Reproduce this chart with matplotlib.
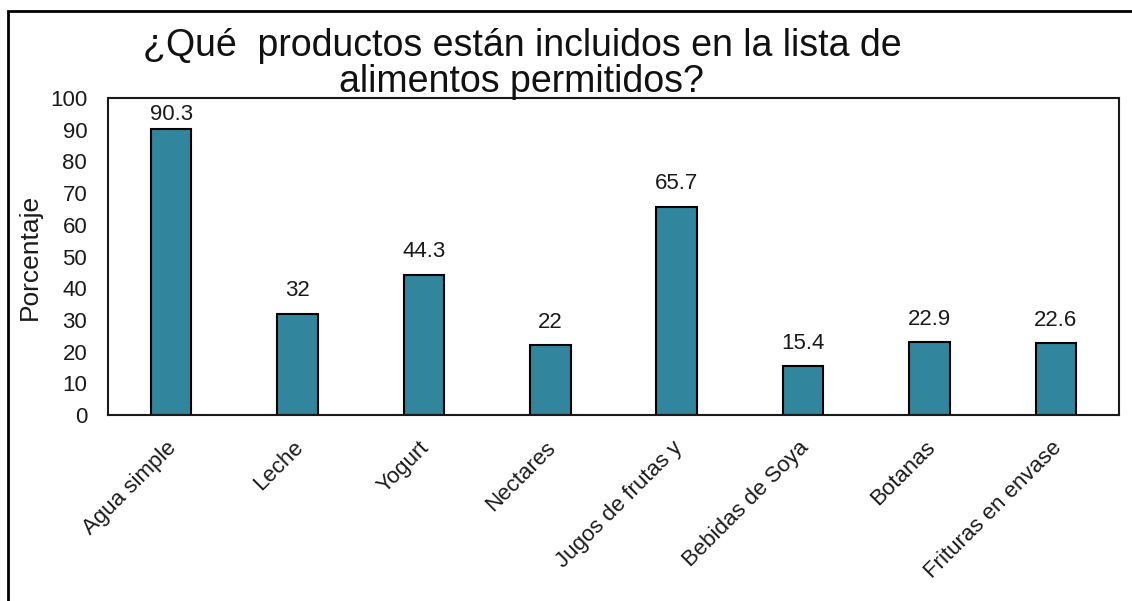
import matplotlib.pyplot as plt
from matplotlib.patches import Rectangle
from matplotlib.transforms import ScaledTranslation
import numpy as np

plt.rcParams['font.family'] = ['Liberation Sans', 'DejaVu Sans']

categorias = ['Agua simple', 'Leche', 'Yogurt', 'Nectares', 'Jugos de frutas y',
              'Bebidas de Soya', 'Botanas', 'Frituras en envase']
porcentajes = [90.3, 32, 44.3, 22, 65.7, 15.4, 22.9, 22.6]
yticks = list(range(0, 101, 10))

fig = plt.figure(figsize=(11.32, 6.01), dpi=100)
ax = fig.add_axes([0.0954, 0.3095, 0.8931, 0.5274])

x = np.arange(len(categorias))
bars = ax.bar(x, porcentajes, width=0.32, color='#31859C', edgecolor='black', linewidth=1.5)

for b, v in zip(bars, porcentajes):
    # la etiqueta de la barra más alta va más pegada para no chocar con el título
    dy = 3 if v > 85 else 9
    ax.annotate(f'{v:g}', (b.get_x() + b.get_width() / 2, v), xytext=(0, dy),
                textcoords='offset points', ha='center', va='bottom', fontsize=16,
                color='#1a1a1a')

ax.set_xlim(-0.5, len(categorias) - 0.5)
ax.set_ylim(0, 100)
ax.set_yticks(yticks)
ax.set_xticks(x)
ax.set_xticklabels(categorias, rotation=45, ha='right', rotation_mode='anchor')
ax.tick_params(axis='y', length=0, pad=15, labelsize=16, labelcolor='#1a1a1a')
ax.tick_params(axis='x', length=0, pad=16, labelsize=16, labelcolor='#1a1a1a')
# correr un poco las etiquetas inclinadas hacia la izquierda
shift = ScaledTranslation(-5 / 100, 0, fig.dpi_scale_trans)
for lbl in ax.get_xticklabels():
    lbl.set_transform(lbl.get_transform() + shift)
ax.set_ylabel('Porcentaje', fontsize=19, color='#1a1a1a', labelpad=6)
for s in ax.spines.values():
    s.set_linewidth(1.5)
    s.set_color('#1a1a1a')

# marco exterior del gráfico
fig.patches.append(Rectangle((8 / 1132, -0.1), 1.2, 1 - 11 / 601 + 0.1,
                             transform=fig.transFigure, fill=False,
                             edgecolor='black', linewidth=2))

fig.text(0.461, 0.893, '¿Qué  productos están incluidos en la lista de\nalimentos permitidos?',
         ha='center', va='center', fontsize=27, color='#111111', linespacing=1.0)

fig.savefig('out.png', dpi=100)
